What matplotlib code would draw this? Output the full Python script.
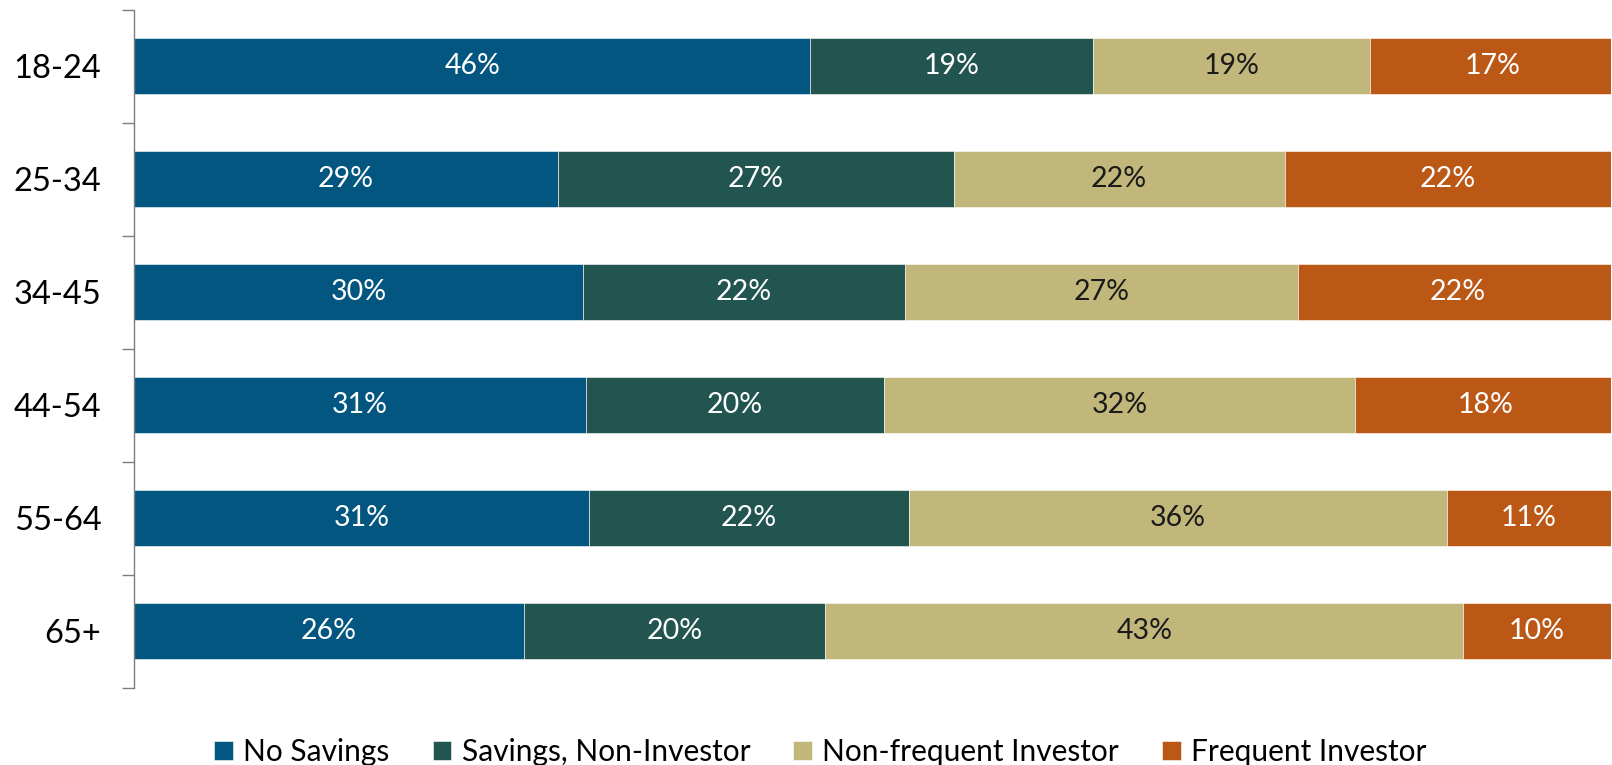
import matplotlib
matplotlib.use("Agg")
import matplotlib.pyplot as plt
import numpy as np

# age groups, top to bottom
groups = ["18-24", "25-34", "34-45", "44-54", "55-64", "65+"]

# share of each group (%)
no_savings = [45.8, 28.7, 30.4, 30.6, 30.8, 26.4]
savings_non_investor = [19.1, 26.8, 21.8, 20.2, 21.7, 20.4]
non_frequent = [18.8, 22.4, 26.6, 31.9, 36.4, 43.2]
frequent = [16.6, 22.1, 21.6, 17.6, 11.1, 10.0]

series_names = ["No Savings", "Savings, Non-Investor", "Non-frequent Investor", "Frequent Investor"]
colors = ["#03567F", "#225450", "#C1B77B", "#BB5815"]
label_colors = ["white", "white", "#1A1A1A", "white"]

plt.rcParams['font.family'] = ['Lato', 'DejaVu Sans']

fig = plt.figure(figsize=(16.12, 7.65), dpi=100)
ax = fig.add_axes([134 / 1612, 1 - 687.5 / 765, 1477 / 1612, (687.5 - 9.5) / 765])

y = np.arange(len(groups))
left = np.zeros(len(groups))
for name, vals, col, tcol in zip(series_names, [no_savings, savings_non_investor, non_frequent, frequent],
                                 colors, label_colors):
    vals = np.array(vals)
    ax.barh(y, vals, left=left, height=0.5, color=col, edgecolor="white", linewidth=0.4, label=name)
    for yi, l, v in zip(y, left, vals):
        ax.text(l + v / 2, yi, f"{v:.0f}%", ha="center", va="center",
                color=tcol, fontsize=20.5)
    left += vals

ax.set_xlim(0, 100)
ax.set_ylim(len(groups) - 0.5, -0.5)
ax.set_yticks(y)
ax.set_yticklabels(groups, fontsize=23.5)
ax.set_yticks(np.arange(-0.5, len(groups)), minor=True)
ax.tick_params(axis="y", which="major", length=0, pad=23.5)
ax.tick_params(axis="y", which="minor", length=8.5, width=1, color="#7F7F7F", direction="out")
ax.set_xticks([])
for s in ["top", "right", "bottom"]:
    ax.spines[s].set_visible(False)
ax.spines["left"].set_color("#7F7F7F")
ax.spines["left"].set_linewidth(1)

fig.legend(loc="upper center", bbox_to_anchor=(0.509, 1 - 738 / 765), ncol=4, frameon=False,
           fontsize=21.5, handlelength=0.62, handleheight=0.62, handletextpad=0.35,
           columnspacing=1.45, borderpad=0, borderaxespad=0)

fig.savefig("out.png", dpi=100)
